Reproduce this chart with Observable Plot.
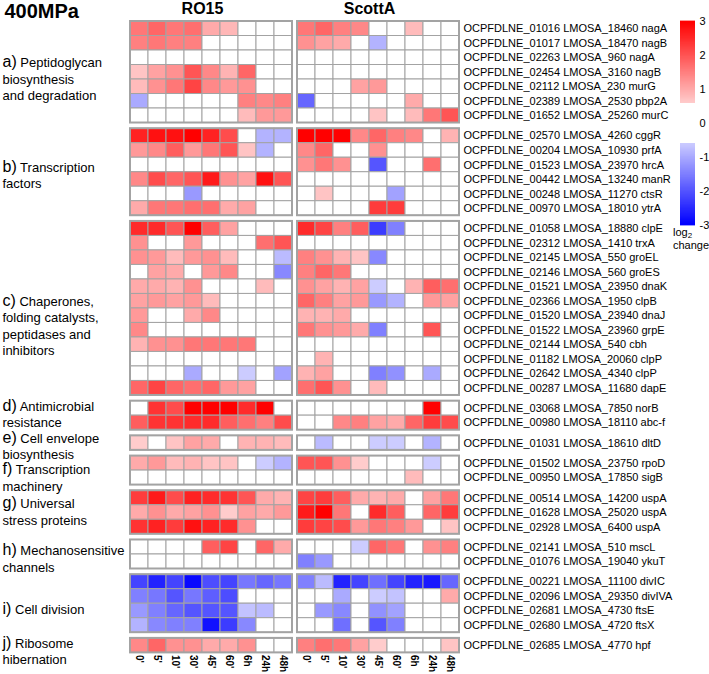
<!DOCTYPE html>
<html><head><meta charset="utf-8">
<script src="https://cdn.jsdelivr.net/npm/d3@7"></script>
<script src="https://cdn.jsdelivr.net/npm/@observablehq/plot@0.6"></script>
<style>
body{margin:0;background:#fff;font-family:"Liberation Sans",Arial,Helvetica,sans-serif;}
#wrap{position:relative;width:709px;height:674px;overflow:hidden;background:#fff;}
#main{position:absolute;left:0;top:0;width:709px;}
#legend{position:absolute;left:672px;top:0;width:40px;}
#legend svg{max-width:none !important;}
.legt{position:absolute;left:673px;white-space:nowrap;font-size:11px;line-height:11px;color:#000;}
.legt span{font-size:8px;position:relative;top:2px;}
</style></head><body>
<div id="wrap"><div id="main"></div><div id="legend"></div>
<div class="legt" style="top:227px">log<span>2</span></div>
<div class="legt" style="top:240px">change</div></div>
<script>
const timepoints = ["0'", "5'", "10'", "30'", "45'", "60'", "6h", "24h", "48h"];
const strains = ["RO15", "ScottA"];
const groupLetters = ["a)", "b)", "c)", "d)", "e)", "f)", "g)", "h)", "i)", "j)"];
const groupText = [
  ["Peptidoglycan", "biosynthesis", "and degradation"],
  ["Transcription", "factors"],
  ["Chaperones,", "folding catalysts,", "peptidases and", "inhibitors"],
  ["Antimicrobial", "resistance"],
  ["Cell envelope", "biosynthesis"],
  ["Transcription", "machinery"],
  ["Universal", "stress proteins"],
  ["Mechanosensitive", "channels"],
  ["Cell division"],
  ["Ribosome", "hibernation"]
];
const groupSizes = [7, 6, 12, 2, 1, 2, 3, 2, 4, 1];
const genes = [
  "OCPFDLNE_01016 LMOSA_18460 nagA",
  "OCPFDLNE_01017 LMOSA_18470 nagB",
  "OCPFDLNE_02263 LMOSA_960 nagA",
  "OCPFDLNE_02454 LMOSA_3160 nagB",
  "OCPFDLNE_02112 LMOSA_230 murG",
  "OCPFDLNE_02389 LMOSA_2530 pbp2A",
  "OCPFDLNE_01652 LMOSA_25260 murC",
  "OCPFDLNE_02570 LMOSA_4260 cggR",
  "OCPFDLNE_00204 LMOSA_10930 prfA",
  "OCPFDLNE_01523 LMOSA_23970 hrcA",
  "OCPFDLNE_00442 LMOSA_13240 manR",
  "OCPFDLNE_00248 LMOSA_11270 ctsR",
  "OCPFDLNE_00970 LMOSA_18010 ytrA",
  "OCPFDLNE_01058 LMOSA_18880 clpE",
  "OCPFDLNE_02312 LMOSA_1410 trxA",
  "OCPFDLNE_02145 LMOSA_550 groEL",
  "OCPFDLNE_02146 LMOSA_560 groES",
  "OCPFDLNE_01521 LMOSA_23950 dnaK",
  "OCPFDLNE_02366 LMOSA_1950 clpB",
  "OCPFDLNE_01520 LMOSA_23940 dnaJ",
  "OCPFDLNE_01522 LMOSA_23960 grpE",
  "OCPFDLNE_02144 LMOSA_540 cbh",
  "OCPFDLNE_01182 LMOSA_20060 clpP",
  "OCPFDLNE_02642 LMOSA_4340 clpP",
  "OCPFDLNE_00287 LMOSA_11680 dapE",
  "OCPFDLNE_03068 LMOSA_7850 norB",
  "OCPFDLNE_00980 LMOSA_18110 abc-f",
  "OCPFDLNE_01031 LMOSA_18610 dltD",
  "OCPFDLNE_01502 LMOSA_23750 rpoD",
  "OCPFDLNE_00950 LMOSA_17850 sigB",
  "OCPFDLNE_00514 LMOSA_14200 uspA",
  "OCPFDLNE_01628 LMOSA_25020 uspA",
  "OCPFDLNE_02928 LMOSA_6400 uspA",
  "OCPFDLNE_02141 LMOSA_510 mscL",
  "OCPFDLNE_01076 LMOSA_19040 ykuT",
  "OCPFDLNE_00221 LMOSA_11100 divIC",
  "OCPFDLNE_02096 LMOSA_29350 divIVA",
  "OCPFDLNE_02681 LMOSA_4730 ftsE",
  "OCPFDLNE_02680 LMOSA_4720 ftsX",
  "OCPFDLNE_02685 LMOSA_4770 hpf"
];
const ro15 = [
  [1.6,1.8,1.6,1.7,1.0,0.85,0,0,0],
  [1.5,1.6,1.5,1.5,0,0,0,0,0],
  [0,0,0,0,0,0,0,0,0],
  [0.7,1.1,1.3,2.0,1.4,0.9,1.8,0,0],
  [0.8,1.3,1.6,2.2,1.4,1.2,1.3,0,0],
  [-1.0,0,0,0,0,0,1.5,1.4,1.5],
  [0,0,0,0,0,0,0.8,1.2,1.2],
  [2.6,2.8,2.8,3.0,2.6,2.1,0,-0.9,-0.9],
  [1.2,1.4,1.9,1.2,1.6,2.0,0.7,-0.9,0],
  [0,0,0,0,0,0,0,0,0],
  [1.4,2.1,1.8,2.0,2.7,1.3,1.1,2.8,2.0],
  [0,0,0,-1.2,0,0,0,0,0],
  [1.0,1.6,1.6,1.7,1.7,1.0,1.1,0,0],
  [2.5,2.5,2.0,3.0,1.9,1.1,0,0,0],
  [1.3,0,0,1.2,0,0,0,1.7,2.0],
  [1.3,1.2,0.8,1.2,1.3,0.8,0,0,-0.8],
  [0,1.1,1.0,0,1.2,1.4,0,0,-1.4],
  [1.0,1.0,0.9,1.3,0,0,0,0.8,0],
  [1.1,1.2,1.1,1.2,0.8,0,0,0,0],
  [1.2,0,0,1.0,1.4,0,0,0,0],
  [1.4,0,0,0,0,0,0,0,0],
  [0.9,1.3,1.3,1.6,1.6,1.6,1.6,0,0],
  [0,0,0,0,0,0,0,0,0],
  [0,0,0,-1.0,0,0,-0.6,0,-1.1],
  [1.8,2.2,1.8,1.7,1.8,1.2,1.1,0,0],
  [0,2.4,2.1,3.0,3.0,3.0,2.5,3.0,0],
  [1.9,2.4,2.4,2.5,2.5,1.9,1.7,1.5,2.1],
  [0.6,0,0.7,1.1,1.0,0,0.9,0.9,0.8],
  [1.0,1.2,0.8,0.9,0.7,0.7,0,-0.6,-0.9],
  [0,0,0,0,0,0,0,0,0],
  [2.3,2.7,2.1,2.6,2.5,2.4,2.0,1.0,0.9],
  [1.0,1.3,1.0,1.1,1.3,0.6,1.1,1.0,1.2],
  [2.4,2.6,2.3,2.8,2.6,2.5,1.3,0,0],
  [0,0,0,0,1.9,2.2,0,1.8,1.0],
  [0,0,0,0,0,0,0,0,0],
  [-2.2,-2.6,-2.2,-2.9,-2.1,-2.2,-1.6,-1.8,-1.6],
  [-1.5,-1.6,-2.0,-1.6,-1.9,-2.1,0,0,0],
  [-1.2,-1.5,-1.8,-2.0,-2.0,-2.0,-0.7,-0.8,0],
  [-0.9,-1.4,-1.5,-1.5,-2.8,-2.3,-1.4,0,0],
  [1.4,1.8,1.3,1.3,1.0,1.0,1.3,0,0]
];
const scottA = [
  [1.6,1.8,1.5,1.4,0,0,0.8,0,0],
  [1.3,1.1,1.0,0,-0.9,0,0,0,0],
  [0,0,0,0,0,0,0,0,0],
  [0,0,0,0,0,0,0,0,0],
  [0,0,0,1.1,1.2,0,0,0,0],
  [-1.8,0,0,0,0,0,1.0,0,0],
  [0,0,0,0,0.7,0,0.8,1.6,2.0],
  [3.0,3.0,3.0,1.4,1.8,1.5,1.4,0,0.9],
  [1.4,1.8,0,0,1.3,0,0,0,0],
  [1.3,1.6,1.3,0,-2.0,0,0,1.7,0],
  [0,0,0,0,0,0,0,0,0],
  [0,0.7,0,0,0,-1.1,0,0,0],
  [0,0,0,0,2.3,2.3,0,0,0],
  [2.5,2.2,1.5,1.9,-2.3,-1.5,0,0,0],
  [0,0,0,0,0,0,0,0,0],
  [1.5,1.3,0.9,0.7,-1.4,0,0,0,0],
  [1.5,1.8,1.6,0,0,0,0,0,0],
  [1.3,1.1,0.9,1.1,-0.6,0,0.9,1.9,1.7],
  [1.8,1.5,1.1,1.2,-1.2,-0.9,0,1.2,1.1],
  [0.9,0.9,1.0,0,0,0,0,0,0],
  [1.6,1.3,1.2,1.0,-1.5,0,0,2.0,0],
  [0,0,0,0,0,0,0,0,0],
  [0,0.9,0,0,0,0,0,0,0],
  [0.9,1.1,0,0,-1.5,-1.3,0,-1.0,0],
  [1.7,2.0,1.3,0,0.8,0,0,0,0],
  [0,0,0,0,0,0,0,3.0,0],
  [0,0,1.4,1.5,1.1,1.0,1.8,2.3,2.1],
  [0,-0.8,0,0,-0.6,-0.6,0,-0.9,0],
  [2.0,2.0,1.3,0.6,0,0,0,-0.6,0],
  [0,0,0,0,0,0,0.8,0,0],
  [2.2,2.3,1.9,1.0,0.9,1.0,0,1.1,1.6],
  [2.7,3.0,1.6,0,2.5,1.9,0,1.8,2.3],
  [2.3,2.2,2.1,1.2,1.6,1.5,1.2,0,0.7],
  [0,0,0,-0.6,1.8,1.6,0,1.3,1.5],
  [-1.5,-1.2,0,0,0,0,0,0,0],
  [-1.5,-0.8,-2.6,-2.2,-1.7,-2.2,-2.6,-2.7,-1.8],
  [0,0,-1.0,0,-0.6,-0.7,0,0,1.0],
  [0,-1.2,-1.4,0,-1.3,-1.1,0,0,0],
  [0,0,-1.7,0,-2.0,-1.5,0,0,0],
  [1.5,1.7,1.6,1.1,0.6,0,0,0,0.7]
];

// ---- layout (not data) ----
const ROW_PX = 14.5;
const LINE_PX = 16.5;
const GAP_Y = 5.7 / ROW_PX;   // vertical gap between groups, in row units
const GAP_X = 5 / 18;         // horizontal gap between strain panels, in column units
const labelNudgePx = [7.5, 3.5, 17.7, -1, 3.6, 8, 0, 5, 6, 6]; // hand placement of the group captions
const NCOL = timepoints.length;
const totalY = genes.length + (groupSizes.length - 1) * GAP_Y;
const totalX = 2 * NCOL + GAP_X;
const FONT = '"Liberation Sans", Arial, Helvetica, sans-serif';

const rowsMeta = [];
const groupsMeta = [];
{
  let i = 0;
  groupSizes.forEach((n, g) => {
    const start = i + g * GAP_Y;
    groupsMeta.push({g, start, end: start + n});
    for (let k = 0; k < n; k++) { rowsMeta.push({gene: genes[i], y: i + g * GAP_Y}); i++; }
  });
}
const cells = [];
rowsMeta.forEach((r, idx) => {
  [ro15, scottA].forEach((arr, s) => {
    arr[idx].forEach((v, c) => cells.push({x: s * (NCOL + GAP_X) + c, y: r.y, v}));
  });
});
const frames = [];
groupsMeta.forEach(gm => strains.forEach((s, si) => frames.push({x1: si * (NCOL + GAP_X), x2: si * (NCOL + GAP_X) + NCOL, y1: gm.start, y2: gm.end})));
const labelLines = [];
groupsMeta.forEach(gm => {
  const lines = groupText[gm.g];
  const center = (gm.start + gm.end) / 2;
  lines.forEach((ln, k) => {
    labelLines.push({
      text: k === 0 ? groupLetters[gm.g] + " " + ln : ln,
      y: center + ((k - (lines.length - 1) / 2) * LINE_PX + labelNudgePx[gm.g]) / ROW_PX
    });
  });
});
const tickPos = [];
const tickLab = new Map();
strains.forEach((s, si) => timepoints.forEach((t, c) => {
  const p = si * (NCOL + GAP_X) + c + 0.5; tickPos.push(p); tickLab.set(p, t);
}));

const colorOpts = {type: "linear", domain: [-3, 0, 3], range: ["#0000ff", "#ffffff", "#ff0000"], interpolate: "rgb", clamp: true};

const main = Plot.plot({
  width: 709, height: 674,
  marginLeft: 130, marginRight: 250, marginTop: 21, marginBottom: 21.6,
  x: {domain: [0, totalX]},
  y: {domain: [0, totalY], reverse: true, axis: null},
  color: colorOpts,
  style: {fontFamily: FONT, fontSize: "11px", color: "black", background: "white", overflow: "visible"},
  marks: [
    Plot.rect(cells, {x1: "x", x2: d => d.x + 1, y1: "y", y2: d => d.y + 1, fill: "v", stroke: "#a3a3a3", strokeWidth: 1}),
    Plot.rect(frames, {x1: "x1", x2: "x2", y1: "y1", y2: "y2", fill: "none", stroke: "#a3a3a3", strokeWidth: 2}),
    Plot.axisX(tickPos, {anchor: "bottom", tickSize: 0, tickPadding: 2, tickRotate: 90, tickFormat: d => tickLab.get(d), fontWeight: "bold", fontSize: 10, label: null}),
    Plot.text(rowsMeta, {x: totalX, y: d => d.y + 0.5, text: "gene", textAnchor: "start", dx: 4, fontSize: 11}),
    Plot.text(labelLines, {x: 0, y: "y", text: "text", textAnchor: "start", dx: -128, fontSize: 13}),
    Plot.text(strains, {x: (d, i) => i * (NCOL + GAP_X) + NCOL / 2, y: 0, text: d => d, dx: -9, dy: -8, lineAnchor: "bottom", fontSize: 16, fontWeight: "bold"}),
    Plot.text(["400MPa"], {x: 0, y: 0, text: d => d, textAnchor: "start", dx: -126, dy: -4, lineAnchor: "bottom", fontSize: 20, fontWeight: "bold"})
  ]
});
// enlarge the "a)" style prefixes of the group captions
d3.select(main).selectAll("text").each(function() {
  if (this.childElementCount) return;
  const m = /^([a-j]\))\s(.*)$/.exec(this.textContent);
  if (!m) return;
  const sel = d3.select(this);
  sel.text(null);
  sel.append("tspan").attr("font-size", 16).text(m[1]);
  sel.append("tspan").text(" " + m[2]);
});
document.getElementById("main").appendChild(main);

// colour key
const STEP = 0.02;
const keySteps = [];
for (let v = 0.6; v < 3 - 1e-9; v += STEP) { keySteps.push({y1: v, y2: v + STEP, v: v + STEP / 2}); keySteps.push({y1: -v, y2: -v - STEP, v: -v - STEP / 2}); }
const legend = Plot.plot({
  width: 40, height: 250, marginLeft: 8, marginRight: 17, marginTop: 21, marginBottom: 25,
  x: {domain: [0, 1], axis: null},
  y: {domain: [-3, 3]},
  color: colorOpts,
  style: {fontFamily: FONT, fontSize: "11px", color: "black", background: "transparent", overflow: "visible", maxWidth: "none"},
  marks: [
    Plot.rect(keySteps, {x1: 0, x2: 1, y1: "y1", y2: "y2", fill: "v", insetTop: -0.4, insetBottom: -0.4}),
    Plot.axisY([-3, -2, -1, 0, 1, 2, 3], {anchor: "right", tickSize: 0, tickPadding: 4, tickFormat: d => String(d), fontSize: 11, label: null})
  ]
});
document.getElementById("legend").appendChild(legend);
</script>
</body></html>
